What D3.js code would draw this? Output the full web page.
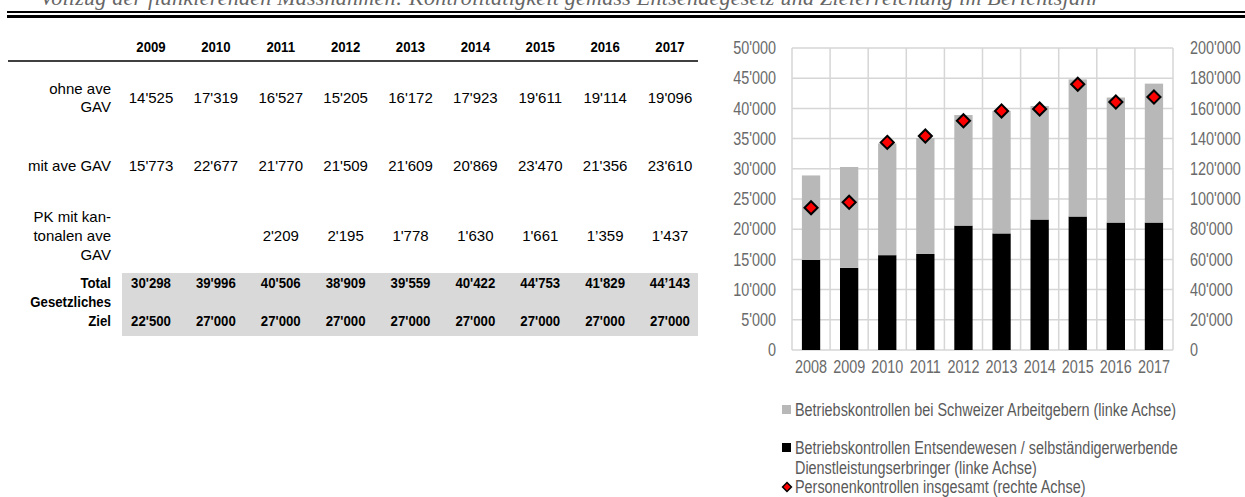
<!DOCTYPE html>
<html>
<head>
<meta charset="utf-8">
<script src="https://cdn.jsdelivr.net/npm/d3@7"></script>
<style>
  body { margin: 0; background: #fff; }
  svg { display: block; }
</style>
</head>
<body>
<svg id="viz"></svg>
<script>
// table data
const tableYears = ['2009', '2010', '2011', '2012', '2013', '2014', '2015', '2016', '2017']
const ohneAve = [14525, 17319, 16527, 15205, 16172, 17923, 19611, 19114, 19096]
const mitAve = [15773, 22677, 21770, 21509, 21609, 20869, 23470, 21356, 23610]
const pkKantonal = [null, null, 2209, 2195, 1778, 1630, 1661, 1359, 1437]
const totals = [30298, 39996, 40506, 38909, 39559, 40422, 44753, 41829, 44143]
const ziel = [22500, 27000, 27000, 27000, 27000, 27000, 27000, 27000, 27000]
// cells printed with a typographic apostrophe in the source
const curlyCells = ['pk-2016', 'pk-2017', 'total-2017']

// chart data
const chartYears = ['2008', '2009', '2010', '2011', '2012', '2013', '2014', '2015', '2016', '2017']
const entsende = [14900, 13600, 15700, 15900, 20600, 19300, 21600, 22100, 21100, 21100]
const schweizer = [14000, 16700, 18500, 19200, 18300, 20300, 18800, 22700, 20700, 23000]
const personen = [94200, 97800, 137500, 141700, 151800, 158300, 159600, 176000, 164200, 167500]
const leftTicks = [0, 5000, 10000, 15000, 20000, 25000, 30000, 35000, 40000, 45000, 50000]
const rightTicks = [0, 20000, 40000, 60000, 80000, 100000, 120000, 140000, 160000, 180000, 200000]
const legendLabels = [
  ['Betriebskontrollen bei Schweizer Arbeitgebern (linke Achse)'],
  ['Betriebskontrollen Entsendewesen / selbständigerwerbende', 'Dienstleistungserbringer (linke Achse)'],
  ['Personenkontrollen insgesamt (rechte Achse)']
]
const titleText = 'Vollzug der flankierenden Massnahmen: Kontrolltätigkeit gemäss Entsendegesetz und Zielerreichung im Berichtsjahr'

const width = 1245
const height = 497

const fmt = d3.formatLocale({ decimal: '.', thousands: "'", grouping: [3], currency: ['', ''] }).format(',')
const fmtCell = (v, key) => {
  const s = fmt(v)
  return curlyCells.includes(key) ? s.replace("'", '\u2019') : s
}

// squeeze text horizontally to imitate a narrow typeface
function narrow(sel, factor) {
  sel.each(function () {
    const w = this.getComputedTextLength()
    d3.select(this).attr('textLength', w * factor).attr('lengthAdjust', 'spacingAndGlyphs')
  })
}

const svg = d3.select('#viz').attr('width', width).attr('height', height)

// clipped caption line at the very top
svg
  .append('text')
  .attr('x', 40)
  .attr('y', 5)
  .attr('font-family', 'Liberation Serif, Times New Roman, serif')
  .attr('font-style', 'italic')
  .attr('font-size', 22)
  .attr('fill', '#666')
  .attr('textLength', 1060)
  .text(titleText)

svg.append('line').attr('x1', 7).attr('x2', width).attr('y1', 12).attr('y2', 12)
  .attr('stroke', '#000').attr('stroke-width', 2)
svg.append('line').attr('x1', 7).attr('x2', width).attr('y1', 16.5).attr('y2', 16.5)
  .attr('stroke', '#000').attr('stroke-width', 3)

// ---------- Table ----------
const table = svg.append('g').attr('font-family', 'Liberation Sans, Arial, sans-serif').attr('font-size', 15)
const col = d3.scalePoint().domain(tableYears).range([151, 670])
const labelX = 111

table.append('rect').attr('x', 122).attr('y', 273).attr('width', 698 - 122).attr('height', 63).attr('fill', '#d9d9d9')
table.append('line').attr('x1', 8).attr('x2', 698).attr('y1', 61).attr('y2', 61).attr('stroke', '#000').attr('stroke-width', 1.5)

table
  .selectAll('.hdr')
  .data(tableYears)
  .join('text')
  .attr('class', 'hdr')
  .attr('x', (d) => col(d))
  .attr('y', 52)
  .attr('text-anchor', 'middle')
  .attr('font-weight', 'bold')
  .text((d) => d)
  .call(narrow, 0.88)

const rows = [
  { key: 'ohne', label: ['ohne ave', 'GAV'], labelY: 89, valueY: 98, values: ohneAve, bold: false },
  { key: 'mit', label: ['mit ave GAV'], labelY: 166, valueY: 166, values: mitAve, bold: false },
  { key: 'pk', label: ['PK mit kan-', 'tonalen ave', 'GAV'], labelY: 217, valueY: 236, values: pkKantonal, bold: false },
  { key: 'total', label: ['Total'], labelY: 283, valueY: 283, values: totals, bold: true },
  { key: 'ziel', label: ['Gesetzliches', 'Ziel'], labelY: 302, valueY: 321, values: ziel, bold: true }
]

rows.forEach((r) => {
  const lineH = r.key === 'ohne' ? 18 : 19
  table
    .append('g')
    .selectAll('text')
    .data(r.label)
    .join('text')
    .attr('x', labelX)
    .attr('y', (d, i) => r.labelY + 5 + i * lineH)
    .attr('text-anchor', 'end')
    .attr('font-weight', r.bold ? 'bold' : 'normal')
    .text((d) => d)
    .call(narrow, r.bold ? 0.88 : 1)

  table
    .append('g')
    .selectAll('text')
    .data(r.values.map((v, i) => ({ v, year: tableYears[i] })).filter((d) => d.v !== null))
    .join('text')
    .attr('x', (d) => col(d.year))
    .attr('y', r.valueY + 5)
    .attr('text-anchor', 'middle')
    .attr('font-weight', r.bold ? 'bold' : 'normal')
    .text((d) => fmtCell(d.v, r.key + '-' + d.year))
    .call(narrow, r.bold ? 0.88 : 1)
})

// ---------- Chart ----------
const plot = { left: 792, right: 1173, top: 48, bottom: 350 }
const x = d3.scaleBand().domain(chartYears).range([plot.left, plot.right]).paddingInner(0.52).paddingOuter(0.26)
const xGrid = d3.scaleBand().domain(chartYears).range([plot.left, plot.right])
const yLeft = d3.scaleLinear().domain([0, 50000]).range([plot.bottom, plot.top])
const yRight = d3.scaleLinear().domain([0, 200000]).range([plot.bottom, plot.top])

const chart = svg.append('g')
const gridColor = '#d6d6d6'

chart
  .append('g')
  .selectAll('line')
  .data(leftTicks)
  .join('line')
  .attr('x1', plot.left)
  .attr('x2', plot.right)
  .attr('y1', (d) => yLeft(d))
  .attr('y2', (d) => yLeft(d))
  .attr('stroke', gridColor)
  .attr('stroke-width', 1.5)

chart
  .append('g')
  .selectAll('line')
  .data(chartYears.concat(['end']))
  .join('line')
  .attr('x1', (d) => (d === 'end' ? plot.right : xGrid(d)))
  .attr('x2', (d) => (d === 'end' ? plot.right : xGrid(d)))
  .attr('y1', plot.top)
  .attr('y2', plot.bottom)
  .attr('stroke', gridColor)
  .attr('stroke-width', 1.5)

const stack = chartYears.map((y, i) => ({ year: y, black: entsende[i], grey: schweizer[i], pers: personen[i] }))

chart
  .append('g')
  .selectAll('rect')
  .data(stack)
  .join('rect')
  .attr('x', (d) => x(d.year))
  .attr('width', x.bandwidth())
  .attr('y', (d) => yLeft(d.black))
  .attr('height', (d) => yLeft(0) - yLeft(d.black))
  .attr('fill', '#000')

chart
  .append('g')
  .selectAll('rect')
  .data(stack)
  .join('rect')
  .attr('x', (d) => x(d.year))
  .attr('width', x.bandwidth())
  .attr('y', (d) => yLeft(d.black + d.grey))
  .attr('height', (d) => yLeft(d.black) - yLeft(d.black + d.grey))
  .attr('fill', '#b8b8b8')

const diamond = d3.symbol().type(d3.symbolDiamond2).size(110)

chart
  .append('g')
  .selectAll('path')
  .data(stack)
  .join('path')
  .attr('transform', (d) => `translate(${x(d.year) + x.bandwidth() / 2}, ${yRight(d.pers)})`)
  .attr('d', diamond)
  .attr('fill', '#ff0000')
  .attr('stroke', '#000')
  .attr('stroke-width', 2)

const axisFont = 'Liberation Sans, Arial, sans-serif'
const axisColor = '#6a6a6a'
const squeeze = 0.8

const leftAxis = chart
  .append('g')
  .attr('transform', `translate(${plot.left - 16}, 0)`)
  .call(d3.axisLeft(yLeft).tickValues(leftTicks).tickFormat(fmt).tickSize(0).tickPadding(0))
leftAxis.select('.domain').remove()
leftAxis.selectAll('text').attr('font-family', axisFont).attr('font-size', 18).attr('fill', axisColor).call(narrow, squeeze)

const rightAxis = chart
  .append('g')
  .attr('transform', `translate(${plot.right + 17}, 0)`)
  .call(d3.axisRight(yRight).tickValues(rightTicks).tickFormat(fmt).tickSize(0).tickPadding(0))
rightAxis.select('.domain').remove()
rightAxis.selectAll('text').attr('font-family', axisFont).attr('font-size', 18).attr('fill', axisColor).call(narrow, squeeze)

const bottomAxis = chart
  .append('g')
  .attr('transform', `translate(0, ${plot.bottom + 10})`)
  .call(d3.axisBottom(xGrid).tickSize(0).tickPadding(0))
bottomAxis.select('.domain').remove()
bottomAxis.selectAll('text').attr('font-family', axisFont).attr('font-size', 18).attr('fill', axisColor).call(narrow, squeeze)

// ---------- Legend ----------
const legend = svg.append('g').attr('font-family', axisFont).attr('font-size', 18).attr('fill', '#5a5a5a')
const legendY = [410, 448, 487]

legend.append('rect').attr('x', 782).attr('y', legendY[0] - 5).attr('width', 9).attr('height', 9).attr('fill', '#b8b8b8')
legend.append('rect').attr('x', 782).attr('y', legendY[1] - 5).attr('width', 9).attr('height', 9).attr('fill', '#000')
legend
  .append('path')
  .attr('transform', `translate(787, ${legendY[2]})`)
  .attr('d', d3.symbol().type(d3.symbolDiamond2).size(50))
  .attr('fill', '#ff0000')
  .attr('stroke', '#000')
  .attr('stroke-width', 1.5)

legendLabels.forEach((lines, i) => {
  legend
    .append('g')
    .selectAll('text')
    .data(lines)
    .join('text')
    .attr('x', 795)
    .attr('y', (d, j) => legendY[i] + 6 + j * 20)
    .text((d) => d)
    .call(narrow, squeeze)
})
</script>
</body>
</html>
